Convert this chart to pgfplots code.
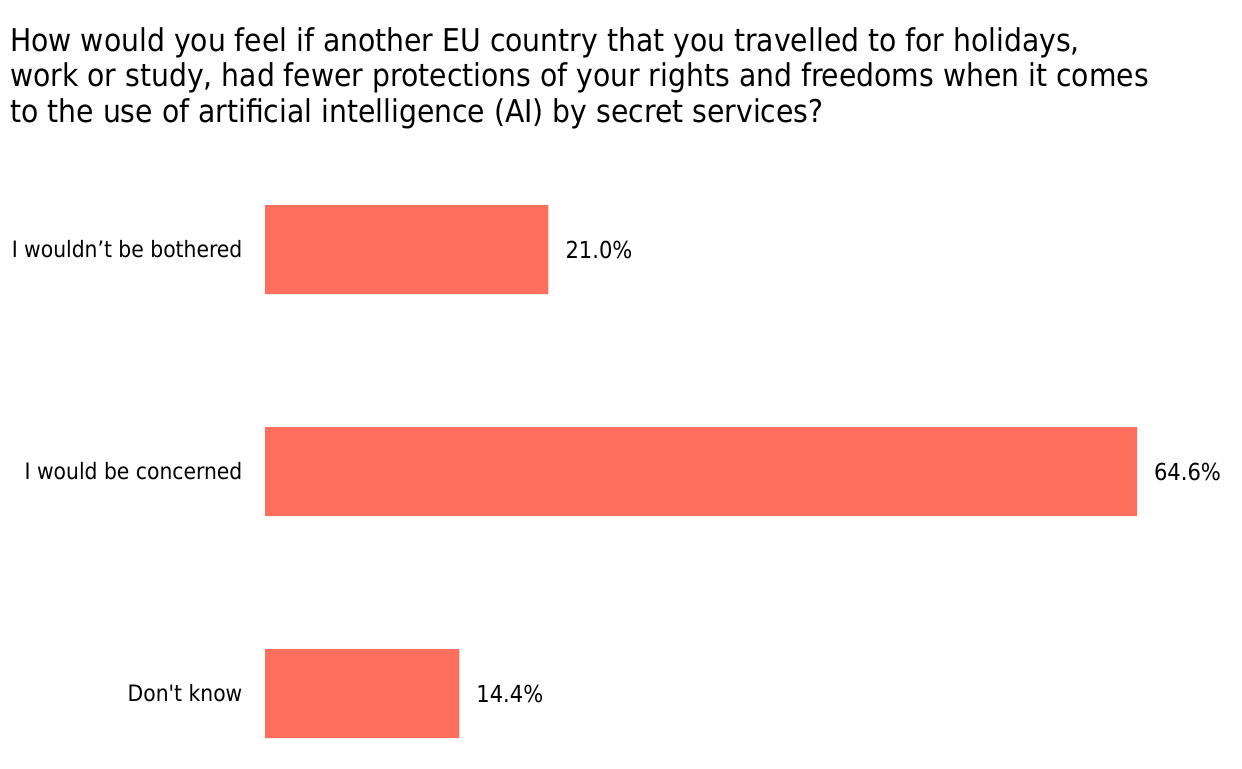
\documentclass[border=0pt]{standalone}
\usepackage{fontspec}
\setmainfont{DejaVu Sans Condensed}
\usepackage{pgfplots}
\pgfplotsset{compat=1.18}
\definecolor{barcol}{HTML}{FF6F5E}

\begin{document}
\begin{tikzpicture}
% canvas: 1242x768 px, 1 px = 0.5 pt
\useasboundingbox (0pt,0pt) rectangle (621pt,-384pt);
\node[anchor=north west, align=left, inner sep=0pt,
      font=\fontsize{15.7}{17.75}\selectfont] at (5pt,-13.5pt)
  {How would you feel if another EU country that you travelled to for holidays,\\
   work or study, had fewer protections of your rights and freedoms when it comes\\
   to the use of artificial intelligence (AI) by secret services?};
\begin{axis}[
    at={(132.5pt,-346.75pt)}, anchor=origin,
    scale only axis, width=436pt, height=310.8pt,
    xbar, bar width=44.5pt,
    xmin=0, xmax=64.6, ymin=-0.3, ymax=2.5,
    axis line style={draw=none},
    xtick=\empty,
    ytick={0,1,2},
    yticklabels={Don\textquotesingle t know, I would be concerned, I wouldn’t be bothered},
    ytick style={draw=none},
    yticklabel style={font=\fontsize{11.3}{13}\selectfont, xshift=-3.5pt},
    nodes near coords={\pgfmathprintnumber[fixed,fixed zerofill,precision=1]{\pgfplotspointmeta}\%},
    nodes near coords style={font=\fontsize{11.7}{13}\selectfont, xshift=5pt,
        /pgf/number format/assume math mode=true},
    clip=false,
]
\addplot[draw=none, fill=barcol] coordinates {(14.4,0) (64.6,1) (21.0,2)};
\end{axis}
\end{tikzpicture}
\end{document}
